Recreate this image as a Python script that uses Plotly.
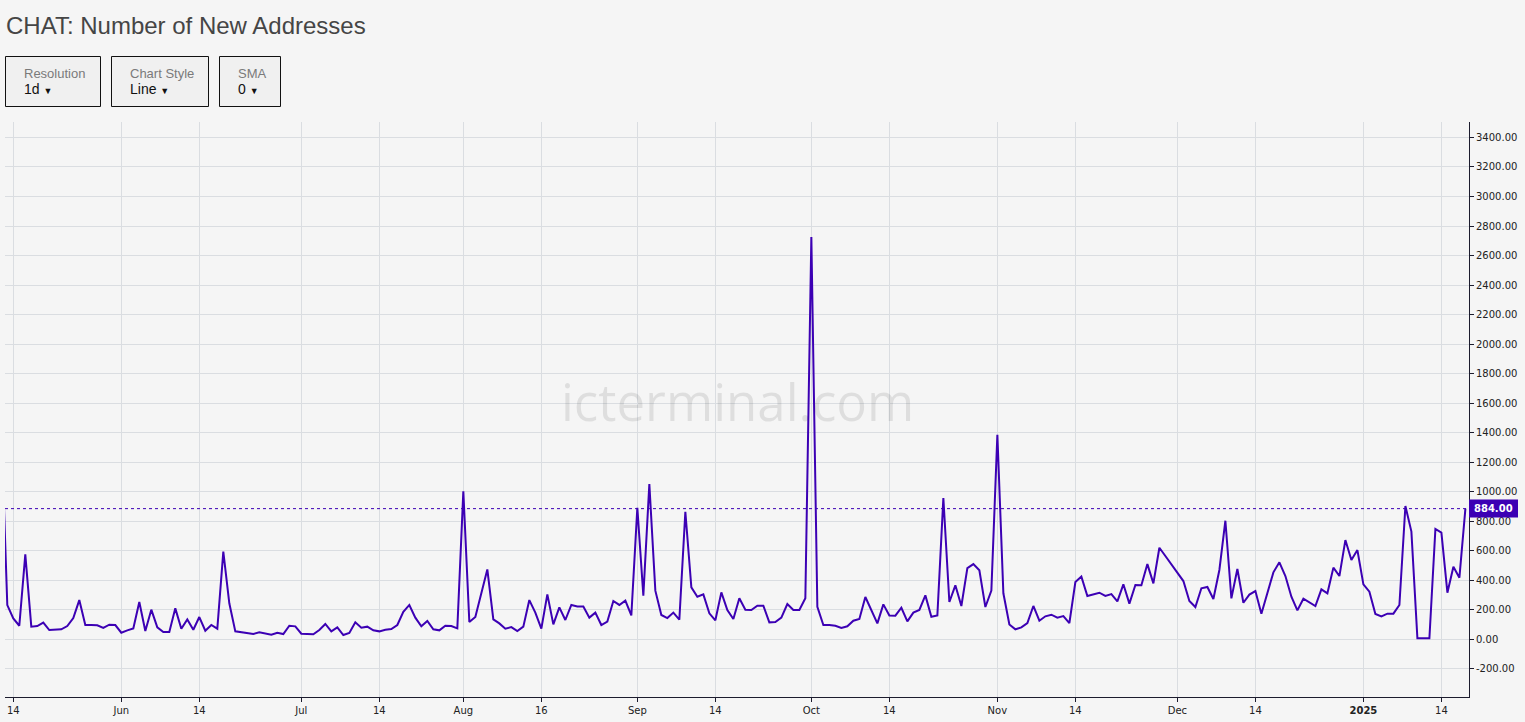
import pandas as pd
import plotly.graph_objects as go

# ---------------- data ----------------
missing_dates = ["2024-07-20", "2024-07-21", "2024-07-27", "2024-07-28",
                 "2024-08-14", "2024-08-15", "2024-09-22"]

may_vals = [1430, 230, 140, 90, 574, 84, 88, 111, 61, 61, 66, 88, 142, 264, 95, 95, 93, 75, 97, 95]
jun_vals = [43, 59, 72, 251, 54, 199, 79, 47, 47, 208, 70, 133, 63, 149, 56, 95, 70, 592, 242, 52,
            47, 41, 34, 45, 38, 29, 43, 34, 90, 86]
jul_vals = [36, 36, 32, 61, 102, 52, 79, 27, 41, 113, 77, 84, 59, 52,
            63, 68, 95, 185, 231, 145, 86, 122, 66, 59, 90, 88, 72]
aug_vals = [1001, 115, 149, 310, 472, 133, 106, 70, 81, 54, 84, 264, 179,
            70, 303, 99, 215, 129, 231, 221, 221, 145, 179, 95, 118, 258, 231, 260, 160]
sep_vals = [890, 294, 1051, 328, 163, 142, 179, 131, 863, 350, 287, 303, 174, 127,
            316, 197, 136, 276, 199, 197, 226, 226, 113, 115, 145, 237, 197, 197, 276]
oct_vals = [2725, 219, 95, 95, 90, 75, 86, 124, 136, 285, 197, 106, 235, 160, 158, 212, 120, 179,
            197, 296, 151, 160, 956, 251, 364, 224, 481, 508, 466, 217, 328]
nov_vals = [1385, 310, 99, 66, 79, 108, 224, 124, 154, 165, 145, 156, 108, 386, 423, 292, 301, 314,
            292, 305, 255, 371, 240, 366, 364, 508, 377, 619, 563, 506]
dec_vals = [445, 393, 258, 217, 344, 353, 271, 468, 802, 276, 475, 246, 301, 325, 172, 310, 452, 520,
            427, 287, 194, 273, 246, 224, 337, 310, 484, 427, 671, 536, 603]
jan_vals = [371, 321, 170, 154, 172, 172, 231, 902, 728, 5, 5, 5, 746, 721, 314, 490, 416, 884]

values = may_vals + jun_vals + jul_vals + aug_vals + sep_vals + oct_vals + nov_vals + dec_vals + jan_vals

all_days = pd.date_range("2024-05-12", "2025-01-18", freq="D").strftime("%Y-%m-%d").tolist()
dates = [d for d in all_days if d not in missing_dates]
assert len(dates) == len(values), (len(dates), len(values))

tick_dates = ["2024-05-14", "2024-06-01", "2024-06-14", "2024-07-01", "2024-07-14", "2024-08-01",
              "2024-08-16", "2024-09-01", "2024-09-14", "2024-10-01", "2024-10-14", "2024-11-01",
              "2024-11-14", "2024-12-01", "2024-12-14", "2025-01-01", "2025-01-14"]
tick_labels = ["14", "Jun", "14", "Jul", "14", "Aug", "16", "Sep", "14", "Oct", "14", "Nov",
               "14", "Dec", "14", "<b>2025</b>", "14"]

y_ticks = list(range(-200, 3401, 200))

# ---------------- layout helpers ----------------
W, H = 1525, 722
L, R, T, B = 5, 56, 122, 25
PW, PH = W - L - R, H - T - B


def px(x):
    return (x - L) / PW


def py(y):
    return (H - B - y) / PH


LINE = "#3c00b4"
BG = "#f5f5f5"
GRID = "#dadde1"
AXIS = "#1c1c2e"

fig = go.Figure()
fig.add_trace(go.Scatter(x=dates, y=values, mode="lines",
                         line=dict(color=LINE, width=2), hoverinfo="x+y", showlegend=False))

last = values[-1]
shapes = [
    dict(type="line", xref="paper", yref="y", x0=0, x1=1, y0=last, y1=last,
         line=dict(color=LINE, width=1, dash="dot")),
    dict(type="rect", xref="paper", yref="paper", x0=px(1469), x1=px(1518),
         y0=py(517.5), y1=py(499.5), fillcolor=LINE, line=dict(width=0)),
]
# selector boxes
boxes = [(5.5, 100.5, "Resolution", "1d"), (111.5, 208.5, "Chart Style", "Line"), (219.5, 280.5, "SMA", "0")]
annotations = []
for x0, x1, lab, val in boxes:
    shapes.append(dict(type="rect", xref="paper", yref="paper", x0=px(x0), x1=px(x1),
                       y0=py(106.5), y1=py(56.5), fillcolor="#f0f0f0",
                       line=dict(color="#111111", width=1), layer="above"))
    annotations.append(dict(xref="paper", yref="paper", x=px(x0 + 16), y=py(73.5), text=lab,
                            showarrow=False, xanchor="left", yanchor="middle",
                            font=dict(family="Liberation Sans, Arial", size=13, color="#7a7a7a")))
    annotations.append(dict(xref="paper", yref="paper", x=px(x0 + 16), y=py(89), text=val + " <span style='font-size:9px'>▼</span>",
                            showarrow=False, xanchor="left", yanchor="middle",
                            font=dict(family="Liberation Sans, Arial", size=14, color="#111111")))

# last value label
annotations.append(dict(xref="paper", yref="paper", x=px(1493.5), y=py(508.5), text="<b>" + f"{last:.2f}" + "</b>",
                        showarrow=False, xanchor="center", yanchor="middle",
                        font=dict(family="DejaVu Sans", size=10, color="#ffffff")))
# watermark
annotations.append(dict(xref="paper", yref="paper", x=px(737), y=py(401), text="icterminal.com",
                        showarrow=False, xanchor="center", yanchor="middle",
                        font=dict(family="Open Sans", size=51, color="rgba(0,0,0,0.09)")))

fig.update_layout(
    width=W, height=H,
    margin=dict(l=L, r=R, t=T, b=B, pad=0),
    paper_bgcolor=BG, plot_bgcolor=BG,
    title=dict(text="CHAT: Number of New Addresses", x=6 / W, xanchor="left",
               y=1 - 26 / H, yanchor="middle",
               font=dict(family="Liberation Sans, Arial", size=24, color="#454545")),
    shapes=shapes,
    annotations=annotations,
    showlegend=False,
    xaxis=dict(type="category", range=[0.617, 244.6], tickmode="array",
               tickvals=tick_dates, ticktext=tick_labels, showgrid=True, gridcolor=GRID, gridwidth=1,
               showline=True, linecolor=AXIS, linewidth=1, ticks="outside", ticklen=4,
               tickcolor=AXIS, tickangle=0,
               tickfont=dict(family="DejaVu Sans", size=10, color="#222222"), fixedrange=True),
    yaxis=dict(side="right", range=[-393, 3505], tickmode="array", tickvals=y_ticks,
               ticktext=[f"{v:.2f}" for v in y_ticks], showgrid=True, gridcolor=GRID, gridwidth=1,
               zeroline=False, showline=True, linecolor=AXIS, linewidth=1, ticks="outside",
               ticklen=4, tickcolor=AXIS,
               tickfont=dict(family="DejaVu Sans", size=10, color="#222222"), fixedrange=True),
)

fig.write_html("out.html", config={"displayModeBar": False},
               post_script="document.body.style.margin='0px';")
